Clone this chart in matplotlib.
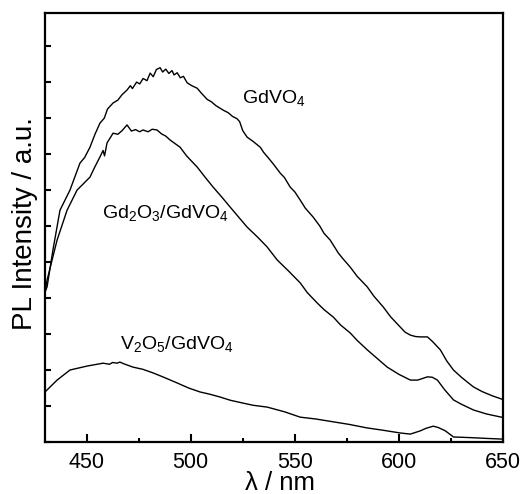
import matplotlib
matplotlib.use("Agg")
import matplotlib.pyplot as plt
from matplotlib.ticker import MultipleLocator

plt.rcParams['font.family'] = ['Liberation Sans', 'DejaVu Sans']
plt.rcParams['mathtext.fontset'] = 'custom'
plt.rcParams['mathtext.rm'] = 'Liberation Sans'
plt.rcParams['mathtext.it'] = 'Liberation Sans:italic'

# GdVO4
wl_gdvo4 = [430.0, 431.0, 433.8, 437.2, 442.0, 446.8, 449.0, 451.6, 454.0, 456.4, 458.5, 460.0,
            462.7, 465.0, 467.0, 469.4, 471.0, 472.0, 474.0, 475.5, 477.1, 479.0, 480.5, 482.0,
            483.5, 485.3, 486.5, 488.0, 489.5, 491.0, 492.0, 493.5, 495.0, 496.5, 498.3, 500.5,
            503.1, 505.0, 507.9, 510.0, 512.0, 515.6, 518.0, 520.0, 522.3, 523.5, 525.0, 527.1,
            530.0, 533.4, 535.0, 538.2, 540.0, 543.0, 545.0, 547.8, 550.0, 552.6, 555.0, 558.8,
            562.0, 564.0, 567.0, 570.9, 573.0, 576.6, 580.0, 584.8, 588.0, 592.5, 596.0, 600.7,
            603.0, 605.5, 608.0, 610.3, 613.7, 616.0, 619.9, 623.0, 626.2, 630.0, 635.8, 640.0,
            645.0, 650.0]
int_gdvo4 = [4.17, 4.31, 5.33, 6.44, 7.00, 7.75, 7.90, 8.19, 8.55, 8.86, 9.00, 9.25,
             9.42, 9.50, 9.65, 9.78, 9.90, 9.82, 10.00, 9.95, 10.10, 10.04, 10.25, 10.15,
             10.35, 10.40, 10.28, 10.36, 10.24, 10.32, 10.20, 10.26, 10.12, 10.16, 9.98, 9.90,
             9.83, 9.70, 9.52, 9.45, 9.35, 9.22, 9.15, 9.05, 8.98, 8.90, 8.65, 8.47,
             8.35, 8.19, 8.05, 7.83, 7.70, 7.47, 7.35, 7.08, 6.95, 6.72, 6.50, 6.25,
             6.00, 5.80, 5.61, 5.25, 5.10, 4.86, 4.60, 4.31, 4.05, 3.75, 3.48, 3.19,
             3.05, 2.97, 2.93, 2.92, 2.92, 2.80, 2.56, 2.25, 2.00, 1.80, 1.53, 1.40,
             1.28, 1.18]

# Gd2O3/GdVO4
wl_gd2o3 = [430.0, 431.0, 435.8, 440.6, 445.4, 448.0, 451.6, 454.0, 456.4, 457.9, 458.6, 459.8,
            462.7, 465.0, 467.0, 469.4, 471.5, 473.5, 475.5, 477.1, 479.5, 481.5, 483.8, 486.0,
            488.0, 490.1, 494.9, 498.0, 503.1, 507.0, 510.8, 515.0, 518.9, 523.0, 527.1, 532.0,
            536.7, 541.5, 547.0, 552.6, 556.0, 560.8, 564.0, 568.5, 572.0, 576.6, 580.0, 584.8,
            590.0, 594.4, 600.0, 605.5, 609.0, 613.7, 616.0, 618.5, 622.0, 626.2, 630.0, 635.8,
            642.0, 650.0]
int_gd2o3 = [4.14, 4.50, 5.61, 6.44, 7.00, 7.15, 7.36, 7.65, 7.92, 8.10, 7.95, 8.31,
             8.58, 8.55, 8.65, 8.81, 8.64, 8.68, 8.62, 8.67, 8.62, 8.69, 8.67, 8.56,
             8.50, 8.39, 8.19, 7.95, 7.64, 7.35, 7.08, 6.80, 6.53, 6.25, 5.97, 5.70,
             5.42, 5.06, 4.75, 4.42, 4.15, 3.86, 3.68, 3.47, 3.25, 3.03, 2.82, 2.56,
             2.30, 2.08, 1.88, 1.72, 1.72, 1.81, 1.80, 1.72, 1.45, 1.17, 1.05, 0.89,
             0.78, 0.68]

# V2O5/GdVO4
wl_v2o5 = [430.0, 435.8, 442.0, 450.2, 457.9, 461.0, 462.5, 464.6, 466.0, 468.0, 472.3, 477.0,
           481.9, 487.0, 493.5, 499.0, 504.5, 509.0, 514.1, 519.0, 525.2, 530.0, 536.7, 545.0,
           552.6, 560.0, 568.5, 576.0, 584.8, 592.0, 600.7, 605.5, 610.3, 613.0, 616.5, 619.0,
           622.3, 626.2, 635.0, 642.0, 650.0]
int_v2o5 = [1.39, 1.72, 2.00, 2.11, 2.19, 2.16, 2.21, 2.19, 2.22, 2.17, 2.08, 2.02,
            1.92, 1.80, 1.64, 1.50, 1.39, 1.33, 1.25, 1.16, 1.08, 1.02, 0.97, 0.84,
            0.69, 0.64, 0.56, 0.49, 0.39, 0.33, 0.25, 0.22, 0.31, 0.38, 0.44, 0.40,
            0.31, 0.14, 0.12, 0.10, 0.08]

labels = [r'GdVO$_\mathregular{4}$', r'Gd$_\mathregular{2}$O$_\mathregular{3}$/GdVO$_\mathregular{4}$',
          r'V$_\mathregular{2}$O$_\mathregular{5}$/GdVO$_\mathregular{4}$']
label_pos = [(524.7, 9.42), (457.4, 6.22), (466.1, 2.58)]

fig = plt.figure(figsize=(5.25, 4.94), dpi=100)
ax = fig.add_axes([45/525, 1-442/494, (503-45)/525, (442-13)/494])

for wl, it in [(wl_gdvo4, int_gdvo4), (wl_gd2o3, int_gd2o3), (wl_v2o5, int_v2o5)]:
    ax.plot(wl, it, color='black', lw=1.0)

for lab, (x, y) in zip(labels, label_pos):
    ax.text(x, y, lab, fontsize=14, va='baseline', ha='left')

ax.set_xlim(430, 650)
ax.set_ylim(0, 11.92)
ax.xaxis.set_major_locator(MultipleLocator(50))
ax.xaxis.set_minor_locator(MultipleLocator(25))
ax.yaxis.set_major_locator(MultipleLocator(1))
ax.set_yticklabels([])
ax.tick_params(axis='x', which='major', direction='in', length=6, width=1.5, labelsize=15.5, pad=7)
ax.tick_params(axis='x', which='minor', direction='in', length=3, width=1.5)
ax.tick_params(axis='y', which='major', direction='in', length=4, width=1.5, labelleft=False)
for s in ax.spines.values():
    s.set_linewidth(1.6)

ax.set_xlabel('λ / nm', fontsize=18.5, va='top')
ax.set_ylabel('PL Intensity / a.u.', fontsize=20)
ax.xaxis.set_label_coords(0.513, -0.068)
ax.yaxis.set_label_coords(-0.015, 0.51)

fig.savefig('out.png', dpi=100)
